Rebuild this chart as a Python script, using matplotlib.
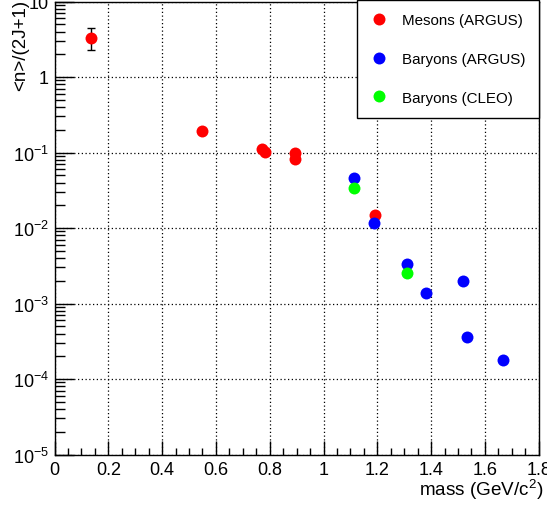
import numpy as np
import matplotlib
matplotlib.use("Agg")
import matplotlib.pyplot as plt
from matplotlib.ticker import FixedLocator, LogLocator, MultipleLocator, FuncFormatter, NullFormatter

plt.rcParams['font.family'] = ['Liberation Sans', 'DejaVu Sans']
plt.rcParams['mathtext.fontset'] = 'custom'
plt.rcParams['mathtext.rm'] = 'Liberation Sans'
plt.rcParams['mathtext.it'] = 'Liberation Sans:italic'
plt.rcParams['mathtext.default'] = 'regular'

# Mesons (ARGUS)
meson_mass = [0.135, 0.548, 0.772, 0.783, 0.893, 0.893, 1.193]
meson_yield = [3.29, 0.193, 0.111, 0.1006, 0.098, 0.082, 0.0149]
pion_err_lo = 3.29 - 2.28
pion_err_hi = 4.42 - 3.29

# Baryons (ARGUS)
baryon_mass = [1.113, 1.188, 1.309, 1.382, 1.517, 1.532, 1.668]
baryon_yield = [0.0464, 0.0115, 0.00337, 0.00139, 0.0020, 0.000363, 0.000180]

# Baryons (CLEO)
cleo_mass = [1.113, 1.309]
cleo_yield = [0.0336, 0.00251]

fig = plt.figure(figsize=(5.47, 5.06), dpi=100)
ax = fig.add_axes([54.5 / 547, 1 - 455.5 / 506, 484.2 / 547, 453 / 506])

ms = 8.6
ax.errorbar(meson_mass[:1], meson_yield[:1], yerr=[[pion_err_lo], [pion_err_hi]],
            fmt='none', ecolor='black', elinewidth=1, capsize=3, capthick=1, zorder=2)
ax.plot(meson_mass, meson_yield, 'o', color='#ff0000', ms=ms, mec='none', label='Mesons (ARGUS)', zorder=3)
ax.plot(baryon_mass, baryon_yield, 'o', color='#0000ff', ms=ms, mec='none', label='Baryons (ARGUS)', zorder=3)
ax.plot(cleo_mass, cleo_yield, 'o', color='#00ff00', ms=ms, mec='none', label='Baryons (CLEO)', zorder=3)

ax.set_xlim(0, 1.8)
ax.set_yscale('log')
ax.set_ylim(1e-5, 10)

ax.xaxis.set_major_locator(MultipleLocator(0.2))
ax.xaxis.set_minor_locator(MultipleLocator(0.05))
ax.xaxis.set_major_formatter(FuncFormatter(lambda v, p: ('%g' % round(v, 2))))
ax.yaxis.set_major_locator(FixedLocator([1e-5, 1e-4, 1e-3, 1e-2, 1e-1, 1, 10]))
ax.yaxis.set_minor_locator(LogLocator(base=10, subs=np.arange(2, 10)))
ax.yaxis.set_minor_formatter(NullFormatter())


def yfmt(v, p):
    e = int(round(np.log10(v)))
    if e == 0:
        return '1'
    if e == 1:
        return '10'
    return '10$^{%d}$' % e


ax.yaxis.set_major_formatter(FuncFormatter(yfmt))

ax.tick_params(axis='both', which='both', direction='in', top=False, right=False,
               labelsize=13, color='black', width=1)
ax.tick_params(axis='x', which='major', length=10, pad=5)
ax.tick_params(axis='x', which='minor', length=5)
ax.tick_params(axis='y', which='major', length=14, pad=4)
ax.tick_params(axis='y', which='minor', length=7)

ax.grid(True, which='major', color='black', linestyle=(0, (1, 2)), linewidth=0.9)
for s in ax.spines.values():
    s.set_linewidth(1)

ax.set_xlabel('mass (GeV/c$^{2}$)', fontsize=13.6, loc='right')
ax.xaxis.set_label_coords((543 - 54.5) / 484.2, -(478 - 455.5) / 453)
ax.set_ylabel('<n>/(2J+1)', fontsize=13.5, loc='top')
ax.yaxis.set_label_coords(-(54.5 - 29) / 484.2, 1 + 2.5 / 453)

leg = ax.legend(loc='upper left', bbox_to_anchor=(356.7 / 547, 1 - 115.7 / 506, 182.3 / 547, 115 / 506),
                bbox_transform=fig.transFigure, mode='expand', fontsize=10.9, frameon=True,
                fancybox=False, edgecolor='black', framealpha=1, borderaxespad=0,
                labelspacing=1.64, handletextpad=0.9, borderpad=0.88, handlelength=1.19,
                markerscale=1.0)
leg.get_frame().set_linewidth(1)

fig.savefig('out.png', dpi=100)
